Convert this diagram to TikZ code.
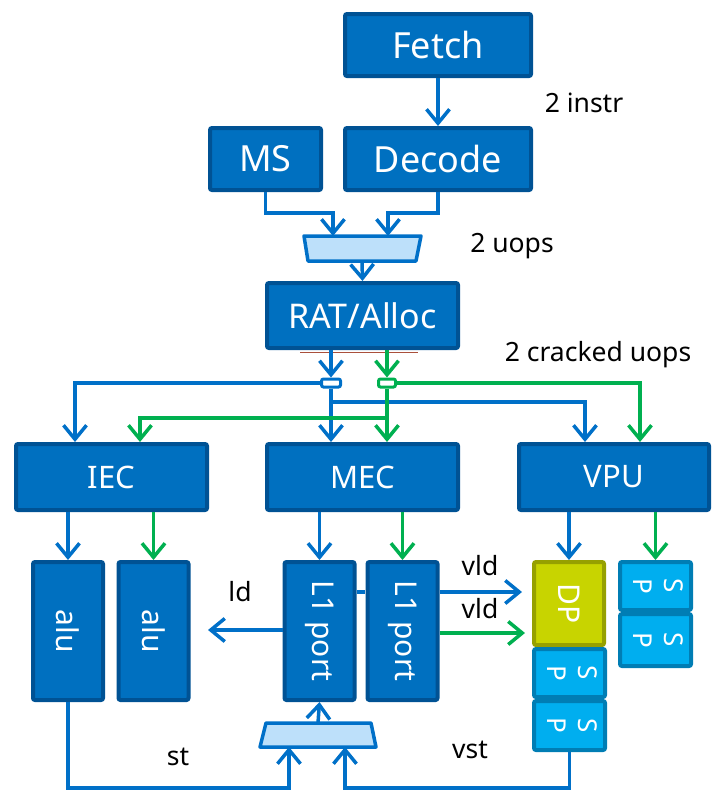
\documentclass[tikz,border=0pt]{standalone}
\usepackage{fontspec}
\setmainfont{Noto Sans}
\usetikzlibrary{arrows.meta}
\definecolor{unitfill}{RGB}{0,112,192}
\definecolor{unitedge}{RGB}{0,82,148}
\definecolor{wireblue}{RGB}{0,112,200}
\definecolor{wiregreen}{RGB}{0,176,80}
\definecolor{muxfill}{RGB}{189,224,250}
\definecolor{dpfill}{RGB}{200,212,0}
\definecolor{dpedge}{RGB}{150,160,0}
\definecolor{spfill}{RGB}{0,174,239}
\definecolor{spedge}{RGB}{0,125,180}
\definecolor{seam}{RGB}{170,80,60}
\begin{document}
\begin{tikzpicture}[x=1pt,y=-1pt,
  unit/.style={draw=unitedge, fill=unitfill, line width=4pt, rounded corners=2pt,
    text=white, inner sep=0pt, font=\fontsize{31}{37}\selectfont},
  bigunit/.style={unit, font=\fontsize{36}{42}\selectfont},
  tallunit/.style={unit, minimum width=70pt, minimum height=138pt},
  spbox/.style={draw=spedge, fill=spfill, line width=4pt, rounded corners=2pt,
    text=white, inner sep=0pt, minimum width=71pt, font=\fontsize{26}{31}\selectfont},
  mux/.style={draw=wireblue, fill=muxfill, line width=3.5pt, line join=round},
  tap/.style={draw, fill=white, line width=3pt, rounded corners=2pt,
    minimum width=18pt, minimum height=8pt, inner sep=0pt},
  wire/.style={line width=3.5pt},
  bwire/.style={wire, draw=wireblue},
  gwire/.style={wire, draw=wiregreen},
  tip/.style={-{Straight Barb[length=14pt,width=23pt]}},
  lbl/.style={font=\fontsize{26.5}{31}\selectfont, inner sep=0pt}]
\useasboundingbox (0,0) rectangle (713,793);

% front end
\node[bigunit, minimum width=186pt, minimum height=62pt] (fetch) at (438,45) {Fetch};
\node[bigunit, minimum width=111pt, minimum height=62pt] (ms) at (265.5,159) {MS};
\node[bigunit, minimum width=186pt, minimum height=62pt] (decode) at (438,159) {Decode};
% uop selector (wide side up)
\draw[mux] (304,236) -- (421,236) -- (416,261) -- (308,261) -- cycle;
\coordinate (mux1in) at (362,236);
\coordinate (mux1out) at (362,261);
\node[unit, minimum width=191pt, minimum height=65pt, font=\fontsize{34}{40}\selectfont] (rat) at (362.5,315.5) {RAT/Alloc};
\draw[seam, line width=1pt] (300,352.5) -- (418,352.5);

% clusters
\node[unit, minimum width=191pt, minimum height=66pt] (iec) at (111.5,477) {IEC};
\node[unit, minimum width=191pt, minimum height=66pt] (mec) at (362.5,477) {MEC};
\node[unit, minimum width=190pt, minimum height=66pt] (vpu) at (614,477) {VPU};

% dispatch taps
\node[tap, draw=wireblue, minimum width=19pt] (btap) at (331,383) {};
\node[tap, draw=wiregreen, minimum width=17pt] (gtap) at (387,383) {};

% execution ports
\node[tallunit, font=\fontsize{30}{36}\selectfont] (alu1) at (68,631) {\rotatebox{-90}{alu}};
\node[tallunit, font=\fontsize{30}{36}\selectfont] (alu2) at (153.5,631) {\rotatebox{-90}{alu}};
\node[tallunit, font=\fontsize{30}{36}\selectfont] (l1a) at (319.5,631) {\rotatebox{-90}{L1 port}};
\draw[bwire] (l1a.east |- 0,592) -- (365,592);
\node[tallunit, font=\fontsize{30}{36}\selectfont] (l1b) at (402.5,631) {\rotatebox{-90}{L1 port}};
\node[draw=dpedge, fill=dpfill, line width=4pt, rounded corners=2pt, text=white, inner sep=0pt,
  minimum width=70pt, minimum height=83pt, font=\fontsize{30}{36}\selectfont] (dp) at (569,603.5) {\rotatebox{-90}{DP}};
\node[spbox, minimum height=48pt] (sp1) at (569.5,673) {\rotatebox{-90}{\begin{tabular}{@{}c@{}}S\\P\end{tabular}}};
\node[spbox, minimum height=49pt] (sp2) at (569.5,725.5) {\rotatebox{-90}{\begin{tabular}{@{}c@{}}S\\P\end{tabular}}};
\node[spbox, minimum height=48pt] (sp3) at (655.5,586) {\rotatebox{-90}{\begin{tabular}{@{}c@{}}S\\P\end{tabular}}};
\node[spbox, minimum height=52pt] (sp4) at (655.5,640) {\rotatebox{-90}{\begin{tabular}{@{}c@{}}S\\P\end{tabular}}};
% store selector (wide side down)
\draw[mux] (266,723) -- (371,723) -- (376,747) -- (260,747) -- cycle;
\coordinate (mux2out) at (318,723);
\coordinate (mux2in) at (318,747);

% free ends of the outgoing arrows
\coordinate (ldend) at (208,630);
\coordinate (vldend) at (522,592);
\coordinate (vld2end) at (525,633);

% front-end connectors
\draw[bwire, tip] (fetch) -- (decode);
\draw[bwire, tip] (ms.south) |- (333,213) -- (333,0 |- mux1in);
\draw[bwire, tip] (decode.south) |- (388,213) -- (388,0 |- mux1in);
\draw[bwire, tip] (mux1out) -- (rat.north);
\draw[bwire, tip] (331,0 |- rat.south) -- (btap.north);
\draw[gwire, tip] (387,0 |- rat.south) -- (gtap.north);

% blue dispatch
\draw[bwire, tip] (btap.west) -| (75,0 |- iec.north);
\draw[bwire, tip] (btap.south) -- (331,0 |- mec.north);
\draw[bwire, tip] (btap.south) |- (585,402) -- (585,0 |- vpu.north);
% green dispatch
\draw[gwire, tip] (gtap.east) -| (640,0 |- vpu.north);
\draw[gwire, tip] (gtap.south) -- (387,0 |- mec.north);
\draw[gwire, tip] (gtap.south) |- (140,418) -- (140,0 |- iec.north);

% cluster to port connectors
\draw[bwire, tip] (alu1.north |- iec.south) -- (alu1.north);
\draw[gwire, tip] (alu2.north |- iec.south) -- (alu2.north);
\draw[bwire, tip] (l1a.north |- mec.south) -- (l1a.north);
\draw[gwire, tip] (l1b.north |- mec.south) -- (l1b.north);
\draw[bwire, tip] (dp.north |- vpu.south) -- (dp.north);
\draw[gwire, tip] (sp3.north |- vpu.south) -- (sp3.north);

% load results
\draw[bwire, tip] (l1a.west |- ldend) -- (ldend);
\draw[bwire, tip] (l1b.east |- vldend) -- (vldend);
\draw[gwire, tip] (l1b.east |- vld2end) -- (vld2end);

% store data
\draw[bwire, tip] (mux2out) -- (l1a.south);
\draw[bwire, tip] (alu1.south) |- (289,788) -- (289,0 |- mux2in);
\draw[bwire, tip] (sp2.south) |- (345,788) -- (345,0 |- mux2in);

% labels
\node[lbl] (linstr) at (584,103) {2 instr};
\node[lbl] (luops) at (512,246) {2 uops};
\node[lbl] (lcracked) at (598,355) {2 cracked uops};
\node[lbl] (lld) at (240,592) {ld};
\node[lbl] (lvld) at (480,566) {vld};
\node[lbl] (lvld2) at (480,609) {vld};
\node[lbl] (lst) at (178,757) {st};
\node[lbl] (lvst) at (470,750) {vst};
\end{tikzpicture}
\end{document}
